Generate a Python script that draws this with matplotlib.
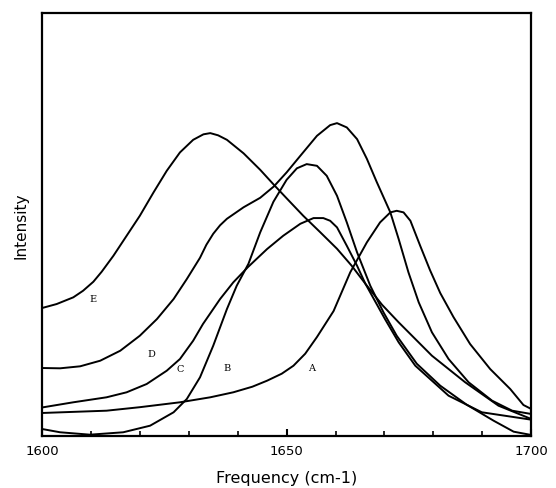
import matplotlib
matplotlib.use("Agg")
import matplotlib.pyplot as plt

# spectra (frequency in cm-1, intensity in arbitrary units)
freq_a = [1600, 1613.2, 1620.0, 1628.2, 1634.4, 1639.1, 1643.0, 1646.0, 1649.0, 1651.4,
          1653.8, 1656.2, 1659.6, 1663.0, 1666.4, 1669.1, 1671.2, 1672.5, 1673.9, 1675.3,
          1677.3, 1679.3, 1681.4, 1684.1, 1687.5, 1691.6, 1695.7, 1698.4, 1700]
int_a = [22.7, 25, 28.5, 33.4, 38.4, 43.4, 49, 55, 62, 70,
         82, 98.7, 124.7, 163.4, 193.4, 213.4, 223.4, 225, 223.4, 215,
         190, 165.7, 142.7, 118.7, 91.7, 66.7, 46.7, 30.7, 26.7]

freq_b = [1600, 1603.7, 1609.8, 1616.6, 1622.1, 1626.9, 1629.6, 1632.3, 1635.0, 1637.8,
          1639.8, 1642.2, 1644.6, 1647.3, 1650.0, 1652.1, 1654.1, 1656.2, 1658.2, 1660.3,
          1662.3, 1664.4, 1667.1, 1669.8, 1672.5, 1676.6, 1681.4, 1686.8, 1692.3, 1696.4, 1700]
int_b = [6.7, 3.4, 1, 3.4, 10, 23.4, 36.7, 58.4, 90, 126.7,
         150, 172, 203.4, 234, 256, 267.5, 271.7, 270, 260, 240,
         213.4, 183.4, 150, 123.4, 100, 72, 50, 31, 15, 4, 0.7]

freq_c = [1600, 1606.4, 1613.2, 1617.3, 1621.4, 1625.5, 1628.2, 1630.9, 1632.9, 1636.4,
          1639.1, 1642.1, 1646.0, 1649.3, 1652.8, 1655.5, 1657.5, 1658.9, 1660.3, 1662.3,
          1664.4, 1666.1, 1670.1, 1672.9, 1676.3, 1683.1, 1689.9, 1700]
int_c = [28.2, 33.4, 38.4, 43.4, 51.7, 65, 76.7, 95, 111.7, 136.7,
         153.4, 168.7, 186.7, 200, 212, 217.7, 217.7, 215, 208.4, 190,
         170, 152, 116.7, 93.4, 70, 40, 23.4, 16]

freq_d = [1600, 1603.7, 1607.8, 1611.9, 1616.0, 1620.0, 1623.5, 1626.9, 1629.6, 1632.3,
          1633.6, 1635.0, 1636.4, 1637.8, 1641.2, 1644.6, 1647.4, 1650.0, 1652.8, 1656.2,
          1658.9, 1660.3, 1662.3, 1664.4, 1666.4, 1668.4, 1671.2, 1672.9, 1674.9, 1677.0,
          1679.7, 1683.1, 1687.2, 1692.0, 1696.1, 1700]
int_d = [67.7, 67.4, 69.4, 75, 85, 100, 116.7, 136.7, 156.7, 178,
         191, 202, 210.5, 217, 228.5, 238, 249.4, 263.4, 280, 300,
         310.7, 312.7, 308.4, 296.7, 277, 254, 223.4, 196.7, 163.4, 133.4,
         103.4, 76.7, 53.4, 35, 25, 21.7]

freq_e = [1600, 1603.0, 1606.4, 1608.4, 1610.5, 1612.2, 1614.6, 1617.3, 1620.0, 1622.8,
          1625.5, 1628.2, 1630.9, 1633.0, 1634.4, 1636.0, 1637.8, 1641.2, 1644.6, 1647.4,
          1650.0, 1653.4, 1656.9, 1660.3, 1663.3, 1666.1, 1669.5, 1672.9, 1679.7, 1686.5,
          1693.3, 1700]
int_e = [127.7, 131.7, 138.4, 145, 154, 164, 180, 200, 220, 243.4,
         265, 283.4, 296, 301.5, 302.7, 300.5, 296, 282.5, 266, 251,
         237.5, 220, 203.4, 187, 170, 152, 131, 113.4, 80, 53.4,
         30, 16.7]

curve_names = ["A", "B", "C", "D", "E"]
label_x = [1655.2, 1637.8, 1628.2, 1622.3, 1610.5]
label_y = [68.4, 68.4, 67.7, 82.4, 137.4]

fig = plt.figure(figsize=(5.56, 4.89), dpi=100)
ax = fig.add_axes([0.0755, 0.107, 0.880, 0.864])

for f, i in [(freq_a, int_a), (freq_b, int_b), (freq_c, int_c), (freq_d, int_d), (freq_e, int_e)]:
    ax.plot(f, i, color="black", linewidth=1.4, solid_joinstyle="round", solid_capstyle="round")

for name, lx, ly in zip(curve_names, label_x, label_y):
    ax.text(lx, ly, name, fontsize=7, family="DejaVu Serif", ha="center", va="center")

ax.set_xlim(1600, 1700)
ax.set_ylim(0, 422.7)
ax.set_xticks([1600, 1650, 1700])
ax.set_xticks(range(1610, 1700, 10), minor=True)
ax.set_yticks([])
ax.tick_params(axis="x", which="major", direction="in", length=5, width=1.5, pad=6, labelsize=9.5)
ax.tick_params(axis="x", which="minor", direction="in", length=3.5, width=1.2)
for s in ax.spines.values():
    s.set_linewidth(1.6)

ax.set_xlabel("Frequency (cm-1)", fontsize=11.5, labelpad=9)
ax.set_ylabel("Intensity", fontsize=11, labelpad=10)

fig.savefig("out.png", dpi=100)
